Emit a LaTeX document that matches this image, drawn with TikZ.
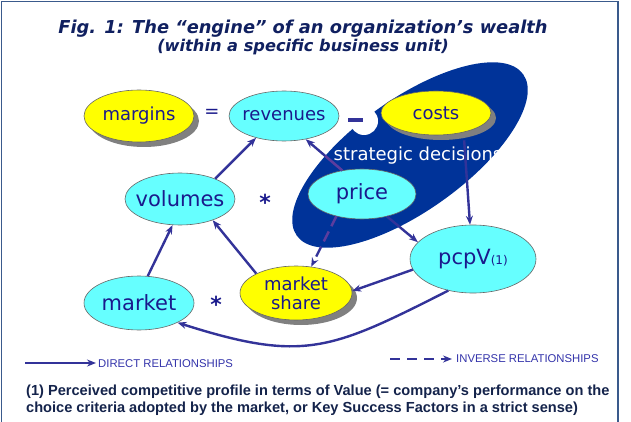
\documentclass[tikz,border=0pt]{standalone}
\usepackage{fontspec}
\setmainfont{DejaVu Sans}
\newfontfamily\arialfont{Liberation Sans}
\usetikzlibrary{shapes.geometric,arrows.meta,shadows}
\definecolor{cyanfill}{HTML}{66FFFF}
\definecolor{yel}{HTML}{FFFF00}
\definecolor{darkell}{HTML}{003399}
\definecolor{arr}{HTML}{333399}
\definecolor{arrp}{HTML}{5C3D9E}
\definecolor{txt}{HTML}{1A1A8C}
\definecolor{titlec}{HTML}{102060}
\definecolor{legc}{HTML}{3333AA}
\definecolor{footc}{HTML}{14234B}
\definecolor{framec}{HTML}{3A5A8C}
\definecolor{shade}{HTML}{808080}
\begin{document}
\begin{tikzpicture}[x=1pt,y=-1pt,
 ell/.style={ellipse, draw=black!60, line width=0.6pt, inner sep=0pt},
 cy/.style={ell, fill=cyanfill},
 ye/.style={ell, fill=yel, drop shadow={shadow xshift=5pt, shadow yshift=-5pt, fill=shade, opacity=1}},
 rel/.style={draw=arr, line width=2.4pt, -{Stealth[length=9pt,width=7pt]}},
 inv/.style={rel, dash pattern=on 11pt off 6pt},
 lab/.style={font=\fontsize{18}{20}\selectfont, text=txt},
 labL/.style={font=\fontsize{21}{24}\selectfont, text=txt},
 sym/.style={font=\fontsize{18}{20}\selectfont, text=txt},
 star/.style={font=\fontsize{22}{24}\selectfont\bfseries, text=txt},
 legtext/.style={font=\arialfont\fontsize{11.3}{13}\selectfont, text=legc},
 foot/.style={font=\arialfont\bfseries\fontsize{14.6}{16}\selectfont, text=footc},
]
\useasboundingbox (0,0) rectangle (631,422);
% frame
\draw[framec, line width=1.3pt] (1.5,423) -- (1.5,1.5) -- (618,1.5) -- (618,423);

% titles
\node[text=titlec, font=\fontsize{17.8}{21}\selectfont\bfseries\itshape] (title) at (303,29) {Fig. 1: The “engine” of an organization’s wealth};
\node[text=titlec, font=\fontsize{16.2}{19}\selectfont\bfseries\itshape] (subtitle) at (303,47) {(within a specific business unit)};

% strategic decisions area
\node[ellipse, fill=darkell, minimum width=278pt, minimum height=112pt, inner sep=0pt, rotate=35.5] (strat) at (410,155) {};
\node[circle, fill=white, minimum size=28pt, inner sep=0pt] (notch) at (364,121) {};
\node[rectangle, fill=arr, minimum width=15pt, minimum height=4pt, inner sep=0pt] (minus) at (355.5,120.5) {};
\node[text=white, font=\fontsize{18}{20}\selectfont] (sdtext) at (418,156) {strategic decisions};

% nodes
\node[ye, minimum width=110pt, minimum height=52pt, label={[lab]center:margins}] (margins) at (139,116) {};
\node[sym] (eq) at (212,113) {=};
\node[cy, minimum width=110pt, minimum height=50pt, label={[lab]center:revenues}] (revenues) at (284,116) {};
\node[ye, minimum width=110pt, minimum height=44pt, label={[lab]center:costs}] (costs) at (436,113) {};
\node[cy, minimum width=110pt, minimum height=52pt, label={[labL]center:volumes}] (volumes) at (180,199) {};
\node[star] (star1) at (265,202) {*};
\node[cy, minimum width=108pt, minimum height=50pt, label={[labL]center:price}] (price) at (362,194) {};
\node[cy, minimum width=110pt, minimum height=54pt, label={[labL]center:market}] (market) at (139,303) {};
\node[star] (star2) at (216,304) {*};
\node[ye, minimum width=112pt, minimum height=54pt, label={[lab, align=center, font=\fontsize{18}{19}\selectfont]center:market\\share}] (mshare) at (296,293) {};
\node[cy, minimum width=126pt, minimum height=68pt, label={[labL]center:pcpV{\fontsize{12}{14}\selectfont(1)}}] (pcpv) at (473,259) {};

% relationships
\draw[rel] (volumes.30) -- (revenues.-142);
\draw[rel] (market.72) -- (volumes.-106);
\draw[rel] (mshare.154) -- (volumes.-33);
\draw[rel] (price.130) -- (revenues.-47);
\draw[rel, shorten <=8pt] (costs.-35) -- (pcpv.95);
\draw[rel] (price.-42) -- (pcpv.163);
\draw[rel] (pcpv.-170) -- (mshare.2);
\draw[rel] (pcpv.-128) .. controls (331,350) and (304,363) .. (market.-27);
\draw[inv] (price.-139) -- (mshare.60);

% purple look of the connectors where they cross the dark area
\begin{scope}
\clip[rotate around={35.5:(410,155)}] (410,155) ellipse [x radius=139pt, y radius=56pt];
\draw[draw=arrp, line width=2.4pt] (price.130) -- (revenues.-47);
\draw[draw=arrp, line width=2.4pt, dash pattern=on 11pt off 6pt] (price.-139) -- (mshare.60);
\end{scope}

% legend
\coordinate (d1) at (25,363);
\coordinate (d2) at (96,363);
\draw[rel, line width=2pt] (d1) -- (d2);
\node[legtext, anchor=west, inner sep=1pt] (dtext) at (97,364) {DIRECT RELATIONSHIPS};
\coordinate (i1) at (390,359);
\coordinate (i2) at (452,359);
\draw[rel, line width=2pt, dash pattern=on 10pt off 7pt] (i1) -- (i2);
\node[legtext, anchor=west, inner sep=1pt] (itext) at (455,359) {INVERSE RELATIONSHIPS};

% footnote
\node[foot, anchor=base west, inner sep=0pt] (foot1) at (26,395) {(1) Perceived competitive profile in terms of Value (= company’s performance on the};
\node[foot, anchor=base west, inner sep=0pt] (foot2) at (26,412) {choice criteria adopted by the market, or Key Success Factors in a strict sense)};
\end{tikzpicture}
\end{document}
